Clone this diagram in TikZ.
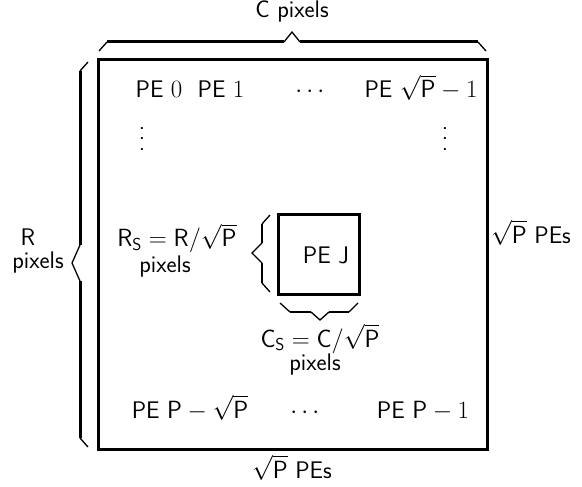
\documentclass[tikz,border=0pt]{standalone}
\usepackage{amsmath}
\newcommand\colpoints{\vbox{\baselineskip=10.5pt\lineskiplimit=-10pt\hbox{.}\hbox{.}\hbox{.}}}
\begin{document}
\begin{tikzpicture}[x=1pt,y=-1pt,
  lbl/.style={font=\sffamily\fontsize{24}{28}\selectfont, inner sep=0pt, anchor=base},
  frame/.style={line width=3pt},
  bar/.style={line width=3pt},
  tip/.style={line width=1.3pt},
  sbar/.style={line width=2pt},
  stip/.style={line width=1.3pt}]
\useasboundingbox (0,0) rectangle (582,487);

% processor grid and one block
\node[frame, draw, minimum width=389pt, minimum height=389pt, inner sep=0pt] (grid) at (292.5,254.5) {};
\node[frame, draw, minimum width=81pt, minimum height=80pt, inner sep=0pt] (pej) at (318.5,254) {};
\node[lbl] (pejtxt) at (326,263) {PE J};

% top brace
\coordinate (t1) at (99,51);
\coordinate (t2) at (107,42);
\coordinate (t3) at (284,42);
\coordinate (t4) at (292,32);
\coordinate (t5) at (300,42);
\coordinate (t6) at (478,42);
\coordinate (t7) at (486,51);
\draw[tip] (t1) -- (t2);
\draw[bar] (t2) -- (t3);
\draw[tip] (t3) -- (t4) -- (t5);
\draw[bar] (t5) -- (t6);
\draw[tip] (t6) -- (t7);

% left brace
\coordinate (l1) at (88,62);
\coordinate (l2) at (80,71);
\coordinate (l3) at (80,245);
\coordinate (l4) at (72,263);
\coordinate (l5) at (80,281);
\coordinate (l6) at (80,438);
\coordinate (l7) at (88,447);
\draw[tip] (l1) -- (l2);
\draw[bar] (l2) -- (l3);
\draw[tip] (l3) -- (l4) -- (l5);
\draw[bar] (l5) -- (l6);
\draw[tip] (l6) -- (l7);

% small left brace
\coordinate (a1) at (270,215);
\coordinate (a2) at (262,224);
\coordinate (a3) at (262,243);
\coordinate (a4) at (252,253);
\coordinate (a5) at (262,263);
\coordinate (a6) at (262,283);
\coordinate (a7) at (270,292);
\draw[stip] (a1) -- (a2);
\draw[sbar] (a2) -- (a3);
\draw[stip] (a3) -- (a4) -- (a5);
\draw[sbar] (a5) -- (a6);
\draw[stip] (a6) -- (a7);

% small bottom brace
\coordinate (b1) at (280,303);
\coordinate (b2) at (290,312);
\coordinate (b3) at (311,312);
\coordinate (b4) at (320,320);
\coordinate (b5) at (329,312);
\coordinate (b6) at (349,312);
\coordinate (b7) at (358,303);
\draw[stip] (b1) -- (b2);
\draw[sbar] (b2) -- (b3);
\draw[stip] (b3) -- (b4) -- (b5);
\draw[sbar] (b5) -- (b6);
\draw[stip] (b6) -- (b7);

% labels
\node[lbl] (cpix) at (292,18) {C pixels};
\node[lbl] (rr) at (28,245) {R};
\node[lbl] (rpix) at (38,269) {pixels};
\node[lbl, anchor=base west] (rpes) at (491,243) {$\sqrt{\mathsf{P}}$ PEs};
\node[lbl] (bpes) at (292,478) {$\sqrt{\mathsf{P}}$ PEs};

\node[lbl] (rs) at (177,247) {$\mathsf{R_S}=\mathsf{R}/\sqrt{\mathsf{P}}$};
\node[lbl] (rspix) at (165,272) {pixels};
\node[lbl] (cs) at (320,347) {$\mathsf{C_S}=\mathsf{C}/\sqrt{\mathsf{P}}$};
\node[lbl] (cspix) at (315,370) {pixels};

\node[lbl] (pe0) at (159,98) {PE $0$};
\node[lbl] (pe1) at (221,98) {PE $1$};
\node[lbl] (hd1) at (312,98) {$\cdots$};
\node[lbl] (pen) at (421,98) {PE $\sqrt{\mathsf{P}}-1$};
\node[lbl, anchor=center] (vd1) at (142,139) {\colpoints};
\node[lbl, anchor=center] (vd2) at (445,139) {\colpoints};

\node[lbl] (pes) at (190,418) {PE $\mathsf{P}-\sqrt{\mathsf{P}}$};
\node[lbl] (hd2) at (307,418) {$\cdots$};
\node[lbl] (pel) at (423,418) {PE $\mathsf{P}-1$};
\end{tikzpicture}
\end{document}
